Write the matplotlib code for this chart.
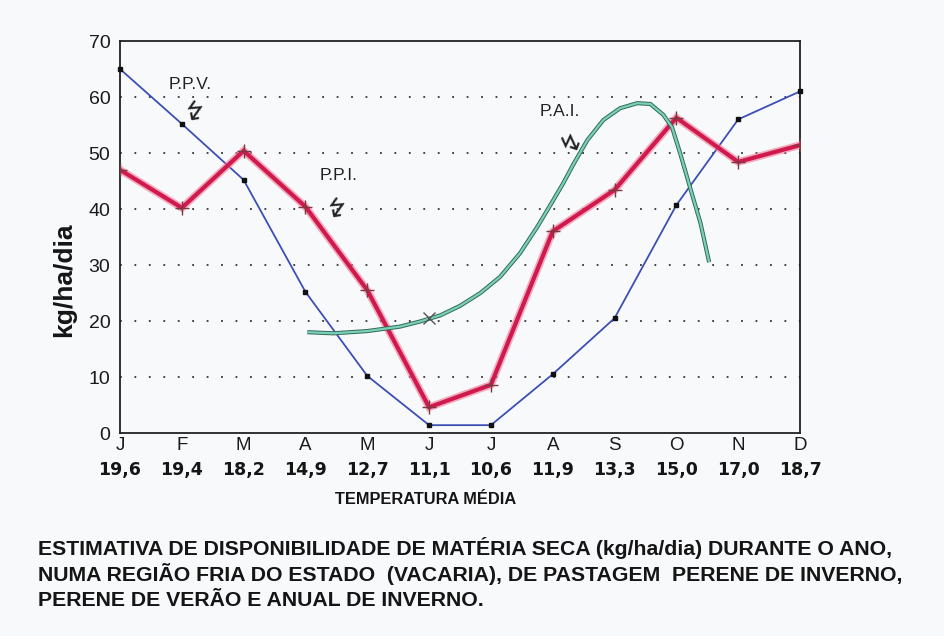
import matplotlib.pyplot as plt
import numpy as np
from matplotlib import font_manager


months = ['J', 'F', 'M', 'A', 'M', 'J', 'J', 'A', 'S', 'O', 'N', 'D']
temps = ['19,6', '19,4', '18,2', '14,9', '12,7', '11,1', '10,6', '11,9',
         '13,3', '15,0', '17,0', '18,7']
ppv = [65, 55.2, 45.2, 25.2, 10.2, 1.4, 1.4, 10.5, 20.5, 40.7, 56, 61]
ppi = [47, 40.2, 50.4, 40.4, 25.5, 4.6, 8.6, 36, 43.4, 56.3, 48.4, 51.4]
# P.A.I. curve (month index, kg/ha/dia)
pai_x = [3.03, 3.45, 4.00, 4.53, 4.85, 5.18, 5.50, 5.83, 6.15, 6.47, 6.75,
         7.01, 7.17, 7.33, 7.56, 7.82, 8.09, 8.37, 8.58, 8.79, 8.93, 9.06,
         9.22, 9.39, 9.53]
pai_y = [18.0, 17.8, 18.2, 19.0, 19.9, 21.0, 22.7, 25.0, 27.9, 32.1, 36.8,
         41.6, 44.6, 47.9, 52.3, 55.9, 58.0, 58.9, 58.75, 56.8, 54.6, 50.0,
         43.9, 37.5, 30.5]
pai_mark_x = [5]
pai_mark_y = [20.5]

caption = ['ESTIMATIVA DE DISPONIBILIDADE DE MATÉRIA SECA (kg/ha/dia) DURANTE O ANO,',
           'NUMA REGIÃO FRIA DO ESTADO  (VACARIA), DE PASTAGEM  PERENE DE INVERNO,',
           'PERENE DE VERÃO E ANUAL DE INVERNO.']


def has_font(name):
    try:
        font_manager.findfont(name, fallback_to_default=False)
        return True
    except ValueError:
        return False


narrow = 'Liberation Sans Narrow' if has_font('Liberation Sans Narrow') else 'Liberation Sans'

bg = '#f8f9fb'
fig = plt.figure(figsize=(9.45, 6.36), dpi=100, facecolor=bg)
ax = fig.add_axes([120/945, 1-433/636, 680/945, 392/636], facecolor=bg)

x = np.arange(len(months))

# blue: perene de verao
ax.plot(x, ppv, color='#3d4fb5', lw=1.3, marker='s', ms=3,
        mfc='#111', mec='#111', zorder=3, clip_on=False)
# red: perene de inverno
ax.plot(x, ppi, color='#f07a98', lw=5.5, alpha=0.6, zorder=3, solid_joinstyle='miter')
ax.plot(x, ppi, color='#d01a4e', lw=3, marker='+', ms=10, mew=1,
        mec='#7a3a40', zorder=4, solid_joinstyle='miter')
# green: anual de inverno
ax.plot(pai_x, pai_y, color='#2f6b58', lw=3, zorder=5, solid_capstyle='butt',
        solid_joinstyle='round')
ax.plot(pai_x, pai_y, color='#7ccfb8', lw=1.6, zorder=6, solid_capstyle='butt',
        solid_joinstyle='round')
ax.plot(pai_mark_x, pai_mark_y, ls='none', marker='x', ms=9, mew=1,
        color='#555', zorder=7)

ax.set_xlim(0, 11)
ax.set_ylim(0, 70)
ax.set_yticks(np.arange(0, 71, 10))
ax.set_xticks(x, months)
ax.tick_params(length=0)
ax.tick_params(axis='y', pad=7, labelsize=14)
ax.tick_params(axis='x', pad=3, labelsize=13.5)
for lab in ax.get_xticklabels() + ax.get_yticklabels():
    lab.set_family('Liberation Sans')
    lab.set_color('#1a1a1a')
for yv in range(10, 70, 10):
    ax.axhline(yv, color='#333', lw=1.3, ls=(0, (1, 7)), zorder=1)
for s in ax.spines.values():
    s.set_color('#222')
    s.set_linewidth(1.3)

# temperature row
for xi, t in zip(x, temps):
    ax.text(xi, -0.094, t, transform=ax.get_xaxis_transform(), ha='center',
            va='center', fontsize=12.5, fontweight='bold', family='DejaVu Sans',
            color='#151515')

# series labels with zigzag arrows
ax.text(1.13, 62.3, 'P.P.V.', ha='center', va='center', fontsize=12.5,
        family='Liberation Sans', color='#222')
ax.text(1.17, 57.0, '↯', ha='center', va='center', fontsize=19, rotation=-25,
        family='DejaVu Sans', color='#222')
ax.text(3.53, 45.9, 'P.P.I.', ha='center', va='center', fontsize=12.5,
        family='Liberation Sans', color='#222')
ax.text(3.46, 39.6, '↯', ha='center', va='center', fontsize=19, rotation=-25,
        family='DejaVu Sans', color='#222')
ax.text(7.12, 57.5, 'P.A.I.', ha='center', va='center', fontsize=12.5,
        family='Liberation Sans', color='#222')
ax.text(7.30, 51.8, '↯', ha='center', va='center', fontsize=19, rotation=35,
        family='DejaVu Sans', color='#222')

fig.text(64/945, 1-280/636, 'kg/ha/dia', rotation=90, ha='center', va='center',
         fontsize=19, fontweight='bold', family='Liberation Sans', color='#151515')

renderer = fig.canvas.get_renderer()


def fit_text(t, width_px):
    w = t.get_window_extent(renderer).width
    t.set_fontsize(t.get_fontsize() * width_px / w)


tm = fig.text(426/945, 1-500/636, 'TEMPERATURA MÉDIA', ha='center', va='center',
              fontsize=13, fontweight='bold', family=narrow, color='#151515')
fit_text(tm, 182)

cap_y = [548, 574, 601]
caps = []
for line, yy in zip(caption, cap_y):
    caps.append(fig.text(38/945, 1-yy/636, line, ha='left', va='center',
                         fontsize=14, fontweight='bold', family=narrow,
                         color='#151515'))
fit_text(caps[0], 860)
caps[1].set_fontsize(caps[0].get_fontsize())
caps[2].set_fontsize(caps[0].get_fontsize())

fig.savefig('out.png', dpi=100, facecolor=bg)
